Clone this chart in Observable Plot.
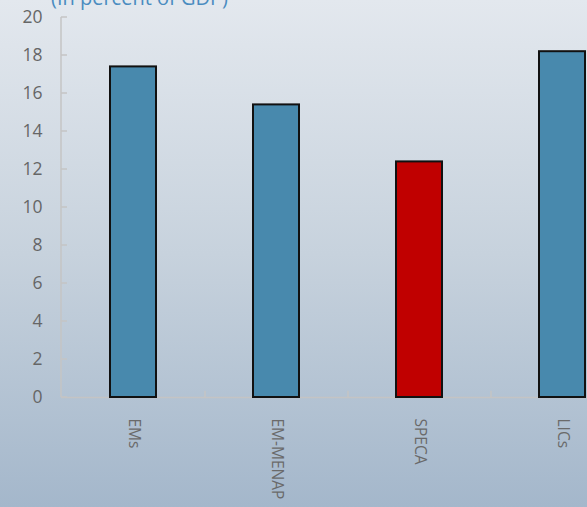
<!DOCTYPE html>
<html><head><meta charset="utf-8">
<script src="https://cdn.jsdelivr.net/npm/d3@7"></script>
<script src="https://cdn.jsdelivr.net/npm/@observablehq/plot@0.6"></script>
<style>
html,body{margin:0;padding:0;}
body{width:587px;height:507px;overflow:hidden;}
#wrap{position:relative;width:587px;height:507px;background:linear-gradient(to bottom,#e3e8ee 0%,#c7d2dd 50%,#a4b7cb 100%);font-family:"Open Sans",sans-serif;}
#title{position:absolute;left:51px;top:-16px;font-size:20px;color:#4a8cc0;white-space:nowrap;line-height:28px;}
#chart{position:absolute;left:0;top:0;}
</style></head>
<body><div id="wrap"><div id="title">(In percent of GDP)</div><div id="chart"></div></div>
<script>
const categories = ["EMs", "EM-MENAP", "SPECA", "LICs"];
const values = [17.4, 15.4, 12.4, 18.2];
const highlight = ["SPECA"];
const yTicks = [0, 2, 4, 6, 8, 10, 12, 14, 16, 18, 20];

const data = categories.map((c, i) => ({cat: c, value: values[i]}));

// y axis line with inward ticks, positioned through the y scale
function yAxisLine(index, scales, values, dims) {
  const g = d3.create("svg:g").attr("stroke", "#c4c4c4").attr("stroke-width", 1.5);
  const x0 = dims.marginLeft;
  g.append("line").attr("x1", x0).attr("x2", x0)
    .attr("y1", scales.y(yTicks[0])).attr("y2", scales.y(yTicks[yTicks.length - 1]));
  for (const t of yTicks) {
    g.append("line").attr("x1", x0).attr("x2", x0 + 6).attr("y1", scales.y(t)).attr("y2", scales.y(t));
  }
  return g.node();
}

const plot = Plot.plot({
  width: 587,
  height: 507,
  marginLeft: 61,
  marginRight: 0,
  marginTop: 17,
  marginBottom: 110,
  style: {background: "transparent", fontFamily: "'Open Sans', sans-serif", fontSize: "16px", overflow: "hidden"},
  x: {domain: categories, range: [61, 633], paddingInner: 0.68, paddingOuter: 0.34, label: null},
  y: {domain: [0, 20], label: null, axis: null},
  marks: [
    Plot.ruleY([0], {stroke: "#c4c4c4", strokeWidth: 1.5}),
    Plot.ruleX(categories.slice(1), {x: d => d, y1: 0, y2: 0.33, dx: -71.5, stroke: "#c4c4c4", strokeWidth: 1.5}),
    yAxisLine,
    Plot.barY(data, {x: "cat", y: "value", fill: d => highlight.includes(d.cat) ? "#c00000" : "#4889ad", stroke: "#111", strokeWidth: 2}),
    Plot.text(yTicks, {y: d => d, text: d => String(d), frameAnchor: "left", textAnchor: "end", dx: -19, fill: "#666", fontSize: 17.5}),
    Plot.axisX({tickSize: 0, tickPadding: 21, tickRotate: 90, fill: "#6a6a6a", fontSize: 15.5, label: null})
  ]
});
document.getElementById("chart").appendChild(plot);
</script>
</body></html>
